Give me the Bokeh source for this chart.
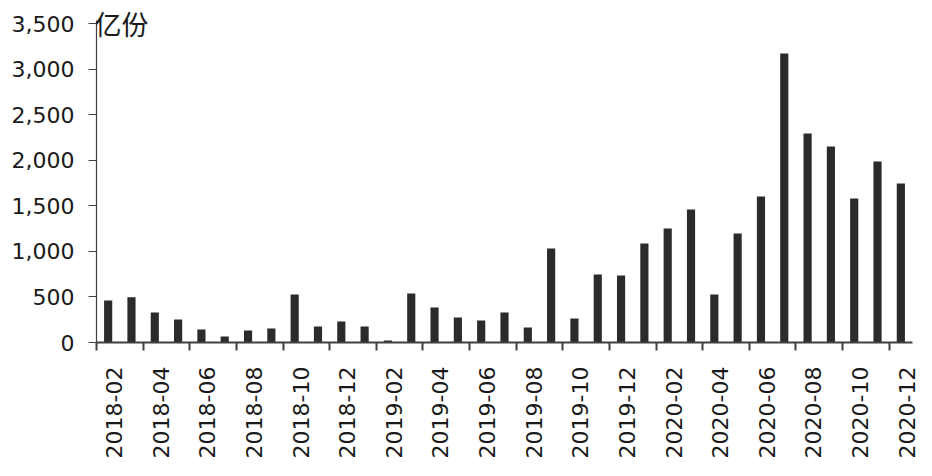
from bokeh.plotting import figure
from bokeh.models import (Range1d, LinearAxis, FixedTicker, NumeralTickFormatter,
                          Label, ColumnDataSource)
from bokeh.embed import file_html
from bokeh.resources import INLINE

months = ["2018-02", "2018-03", "2018-04", "2018-05", "2018-06", "2018-07",
          "2018-08", "2018-09", "2018-10", "2018-11", "2018-12",
          "2019-01", "2019-02", "2019-03", "2019-04", "2019-05", "2019-06",
          "2019-07", "2019-08", "2019-09", "2019-10", "2019-11", "2019-12",
          "2020-01", "2020-02", "2020-03", "2020-04", "2020-05", "2020-06",
          "2020-07", "2020-08", "2020-09", "2020-10", "2020-11", "2020-12"]
values = [461, 497, 329, 252, 143, 66, 132, 154, 527, 175, 230,
          175, 22, 537, 384, 274, 241, 329, 165, 1031, 263, 746, 735,
          1086, 1250, 1459, 527, 1196, 1602, 3170, 2293, 2150, 1580, 1986, 1744]
y_ticks = [0, 500, 1000, 1500, 2000, 2500, 3000, 3500]
unit_label = "亿份"

FONT = "DejaVu Sans"
CJK_FONT = "Noto Sans CJK SC"
TEXT_COLOR = "#1a1a1a"
AXIS_COLOR = "#404040"
BAR_COLOR = "#2b2b2b"

n = len(months)
idx = list(range(n))
source = ColumnDataSource(dict(x=idx, top=values, month=months))

# frame extends a little above the axis so the unit label is not clipped
p = figure(frame_width=816, frame_height=336,
           x_range=Range1d(-0.5, n - 0.5), y_range=Range1d(0, 3687),
           x_axis_location=None, output_backend="svg", toolbar_location=None,
           min_border_left=96, min_border_top=6, min_border_right=14,
           min_border_bottom=4)
p.outline_line_color = None
p.grid.visible = False
p.background_fill_color = "white"
p.border_fill_color = "white"

p.vbar(x="x", top="top", width=0.35, source=source,
       fill_color=BAR_COLOR, line_color=None)

# label axis, shifted a quarter category to the right like the original
p.extra_x_ranges = {"lab": Range1d(-0.75, n - 0.75)}
label_ticks = list(range(0, n, 2))
xaxis = LinearAxis(x_range_name="lab",
                   ticker=FixedTicker(ticks=label_ticks,
                                      minor_ticks=[t - 0.75 for t in label_ticks]))
xaxis.major_label_overrides = {t: months[t] for t in label_ticks}
xaxis.major_label_orientation = 1.5707963
xaxis.major_tick_out = 0
xaxis.major_tick_in = 0
xaxis.minor_tick_out = 8
xaxis.minor_tick_in = 0
xaxis.minor_tick_line_color = AXIS_COLOR
xaxis.minor_tick_line_width = 2
xaxis.axis_line_color = AXIS_COLOR
xaxis.axis_line_width = 2
xaxis.major_label_text_font = FONT
xaxis.major_label_text_font_size = "22px"
xaxis.major_label_text_color = TEXT_COLOR
xaxis.major_label_standoff = 16
p.add_layout(xaxis, "below")

yaxis = p.yaxis[0]
yaxis.ticker = FixedTicker(ticks=y_ticks)
yaxis.bounds = (0, 3533)
yaxis.formatter = NumeralTickFormatter(format="0,0")
yaxis.major_tick_out = 8
yaxis.major_tick_in = 0
yaxis.minor_tick_out = 0
yaxis.minor_tick_in = 0
yaxis.axis_line_color = AXIS_COLOR
yaxis.axis_line_width = 1.2
yaxis.major_tick_line_color = AXIS_COLOR
yaxis.major_label_text_font = FONT
yaxis.major_label_text_font_size = "22px"
yaxis.major_label_text_color = TEXT_COLOR
yaxis.major_label_standoff = 14

p.add_layout(Label(x=-0.5, y=3500, text=unit_label, text_align="left",
                   text_baseline="alphabetic", y_offset=0,
                   text_font=CJK_FONT, text_font_size="27px",
                   text_color=TEXT_COLOR, x_offset=-2))

open("out.html", "w").write(file_html(p, INLINE))
